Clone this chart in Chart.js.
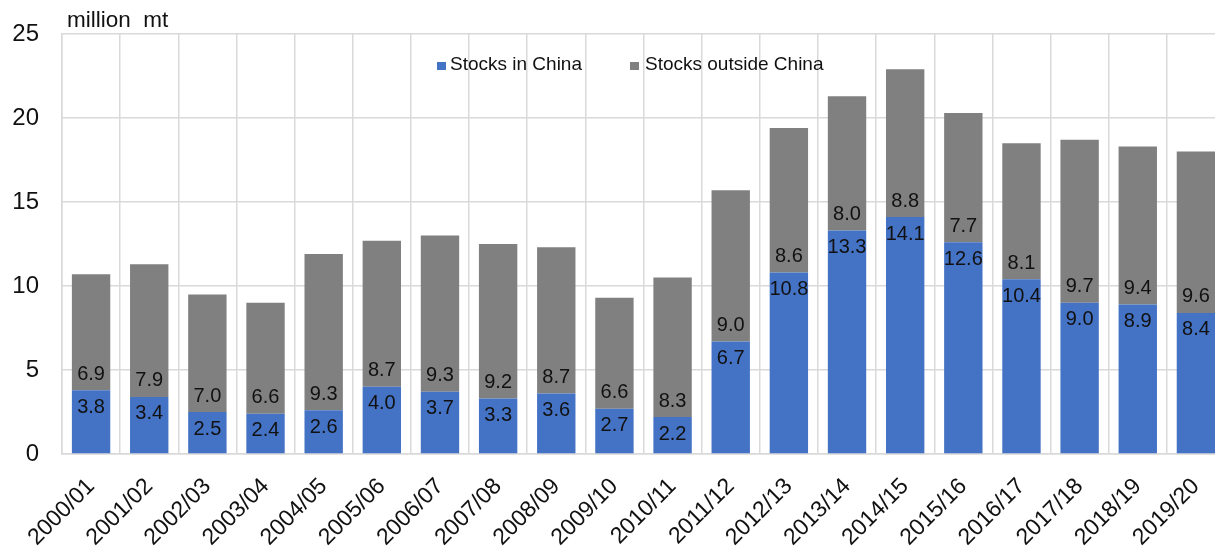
<!DOCTYPE html>
<html>
<head>
<meta charset="utf-8">
<script src="https://cdn.jsdelivr.net/npm/chart.js@4.4.1/dist/chart.umd.min.js"></script>
<style>
  html, body { margin: 0; padding: 0; overflow: hidden; background: #fff; }
  #wrap { width: 1226px; height: 552px; }
</style>
</head>
<body>
<div id="wrap"><canvas id="stocks" width="1226" height="552"></canvas></div>
<script>
const seasons = ["2000/01", "2001/02", "2002/03", "2003/04", "2004/05", "2005/06", "2006/07",
  "2007/08", "2008/09", "2009/10", "2010/11", "2011/12", "2012/13", "2013/14", "2014/15",
  "2015/16", "2016/17", "2017/18", "2018/19", "2019/20"];
const inChina = [3.8, 3.4, 2.5, 2.4, 2.6, 4.0, 3.7, 3.3, 3.6, 2.7, 2.2, 6.7, 10.8, 13.3, 14.1, 12.6, 10.4, 9.0, 8.9, 8.4];
const outsideChina = [6.9, 7.9, 7.0, 6.6, 9.3, 8.7, 9.3, 9.2, 8.7, 6.6, 8.3, 9.0, 8.6, 8.0, 8.8, 7.7, 8.1, 9.7, 9.4, 9.6];
const yTicks = [0, 5, 10, 15, 20, 25];

const FONT = "'Liberation Sans', Arial, sans-serif";
const BLUE = "#4472c4", GREY = "#808080", GRID = "#d9d9d9";

// value labels: blue ones under the top of the blue bar, grey ones just above it
const barLabels = {
  id: "barLabels",
  afterDatasetsDraw(chart) {
    const ctx = chart.ctx;
    ctx.save();
    ctx.font = "20px " + FONT;
    ctx.fillStyle = "#111";
    ctx.textAlign = "center";
    ctx.textBaseline = "middle";
    chart.data.datasets.forEach((ds, i) => {
      chart.getDatasetMeta(i).data.forEach((bar, j) => {
        const y = i === 0 ? bar.y + 17 : bar.base - 16;
        ctx.fillText(ds.data[j].toFixed(1), bar.x, y);
      });
    });
    ctx.restore();
  }
};

// unit text and the legend inside the plot
const extras = {
  id: "extras",
  afterDraw(chart) {
    const ctx = chart.ctx;
    ctx.save();
    ctx.fillStyle = "#111";
    ctx.textBaseline = "alphabetic";
    ctx.font = "22.5px " + FONT;
    ctx.fillText("million  mt", 67, 27);

    ctx.font = "19px " + FONT;
    ctx.textBaseline = "middle";
    ctx.fillStyle = BLUE;
    ctx.fillRect(437, 62, 9, 8);
    ctx.fillStyle = "#111";
    ctx.fillText(chart.data.datasets[0].label, 450, 65);
    ctx.fillStyle = GREY;
    ctx.fillRect(630, 62, 9, 8);
    ctx.fillStyle = "#111";
    ctx.fillText(chart.data.datasets[1].label, 645, 65);
    ctx.restore();
  }
};

// keep the plot box fixed, labels may spill over
function noPad(scale) {
  scale.paddingLeft = scale.paddingRight = scale.paddingTop = scale.paddingBottom = 0;
}

new Chart(document.getElementById("stocks"), {
  type: "bar",
  data: {
    labels: seasons,
    datasets: [
      { label: "Stocks in China", data: inChina, backgroundColor: BLUE },
      { label: "Stocks outside China", data: outsideChina, backgroundColor: GREY }
    ]
  },
  options: {
    responsive: false,
    animation: false,
    devicePixelRatio: 1,
    barPercentage: 0.66,
    categoryPercentage: 1,
    layout: { autoPadding: false, padding: { top: 34, right: 1, left: 0, bottom: 0 } },
    plugins: { legend: { display: false }, tooltip: { enabled: false } },
    scales: {
      x: {
        stacked: true,
        grid: { color: GRID, lineWidth: 1.5, offset: true, drawTicks: false },
        border: { color: GRID, width: 1.5 },
        ticks: {
          autoSkip: false, minRotation: 45, maxRotation: 45, padding: 19,
          color: "#111", font: { family: FONT, size: 23 }
        },
        afterFit(scale) { scale.height = 98; noPad(scale); }
      },
      y: {
        stacked: true,
        min: 0,
        max: 25,
        afterBuildTicks(scale) { scale.ticks = yTicks.map(v => ({ value: v })); },
        grid: { color: GRID, lineWidth: 1.5, drawTicks: false },
        border: { color: GRID, width: 1.5 },
        ticks: { padding: 23, color: "#111", font: { family: FONT, size: 24 } },
        afterFit(scale) { scale.width = 62; noPad(scale); }
      }
    }
  },
  plugins: [barLabels, extras]
});
</script>
</body>
</html>
